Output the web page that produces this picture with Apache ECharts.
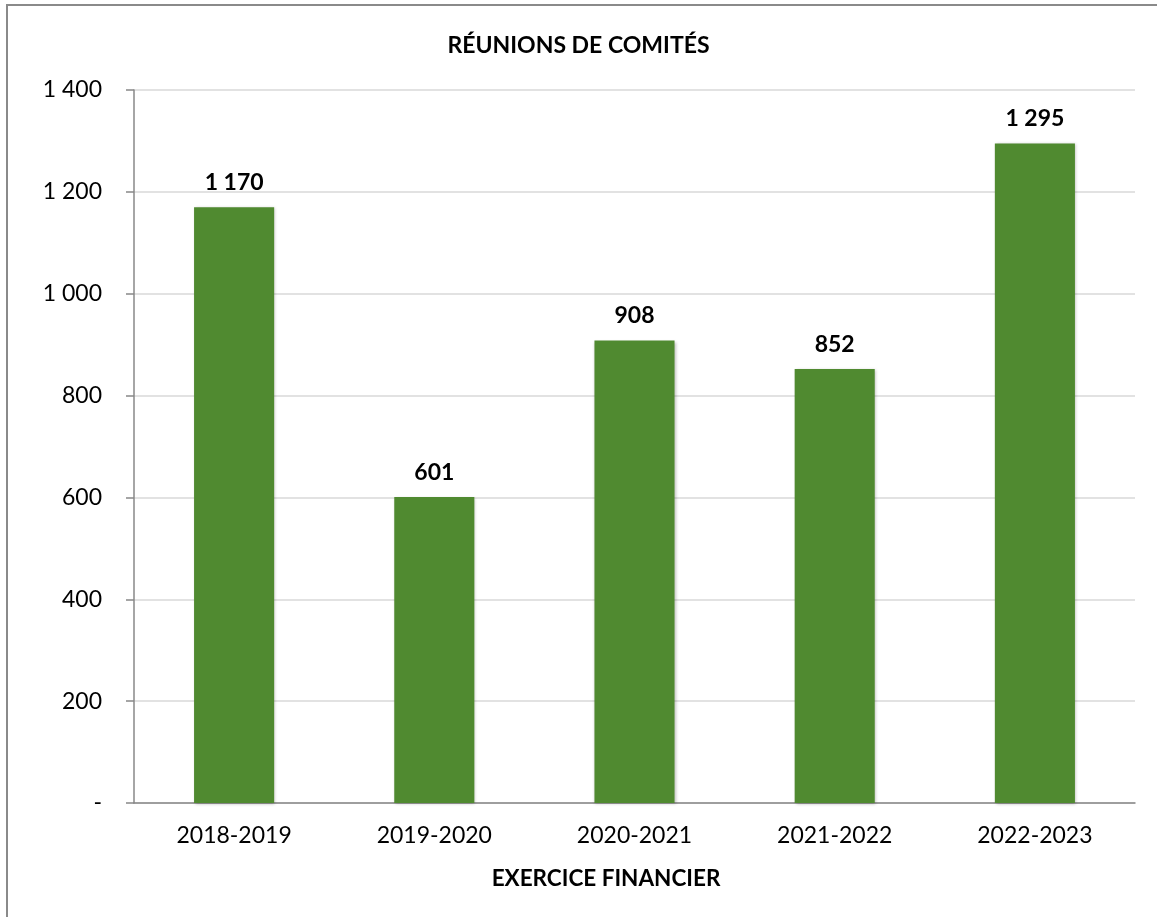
<!DOCTYPE html>
<html><head><meta charset="utf-8">
<script src="https://cdn.jsdelivr.net/npm/echarts@6/dist/echarts.min.js"></script>
<style>html,body{margin:0;padding:0;background:#fff}#c{width:1157px;height:917px}</style>
</head><body><div id="c"></div>
<script>
const categories = ['2018-2019','2019-2020','2020-2021','2021-2022','2022-2023'];
const meetings = [1170, 601, 908, 852, 1295];
const yTicks = [0, 200, 400, 600, 800, 1000, 1200, 1400];
const titleText = 'RÉUNIONS DE COMITÉS';
const xAxisTitle = 'EXERCICE FINANCIER';

function fmt(v){
  if (v === 0) return '-';
  return String(v).replace(/\B(?=(\d{3})+(?!\d))/g, ' ');
}
const FONT = 'Lato, "Open Sans", sans-serif';
const chart = echarts.init(document.getElementById('c'), null, {renderer:'canvas'});
chart.setOption({
  animation:false,
  backgroundColor:'#fff',
  graphic:[{type:'rect', shape:{x:7, y:5, width:1200, height:1000}, style:{fill:'none', stroke:'#8a8a8a', lineWidth:2}, silent:true}],
  title:{text:titleText, left:'center', top:29, padding:[5,0,5,11], textStyle:{fontFamily:FONT, fontSize:23, fontWeight:'bold', color:'#000'}},
  grid:{left:134, right:22, top:90, bottom:114, containLabel:false},
  xAxis:{
    type:'category', data:categories,
    axisLine:{lineStyle:{color:'#888', width:1.5}},
    axisTick:{length:8, lineStyle:{color:'#888', width:1.5}},
    axisLabel:{color:'#000', fontFamily:FONT, fontSize:23, margin:21},
    name:xAxisTitle, nameLocation:'middle', nameGap:64,
    nameTextStyle:{fontFamily:FONT, fontSize:22.5, fontWeight:'bold', color:'#000', padding:[0,57,0,0]}
  },
  yAxis:{
    type:'value', min:yTicks[0], max:yTicks[yTicks.length-1], interval:200,
    axisLine:{show:true, lineStyle:{color:'#888', width:1.5}},
    axisTick:{show:true, length:8, lineStyle:{color:'#888', width:1.5}},
    splitLine:{lineStyle:{color:'#d9d9d9', width:1.5}},
    axisLabel:{color:'#000', fontFamily:FONT, fontSize:23, margin:32, formatter:fmt}
  },
  series:[{
    type:'bar', data:meetings, barWidth:'40%',
    itemStyle:{color:'#508a30', shadowColor:'rgba(0,0,0,0.25)', shadowBlur:3, shadowOffsetX:1, shadowOffsetY:1},
    label:{show:true, position:'top', distance:13, formatter:p=>fmt(p.value), fontFamily:FONT, fontSize:23, fontWeight:'bold', color:'#000'}
  }]
});
</script></body></html>
